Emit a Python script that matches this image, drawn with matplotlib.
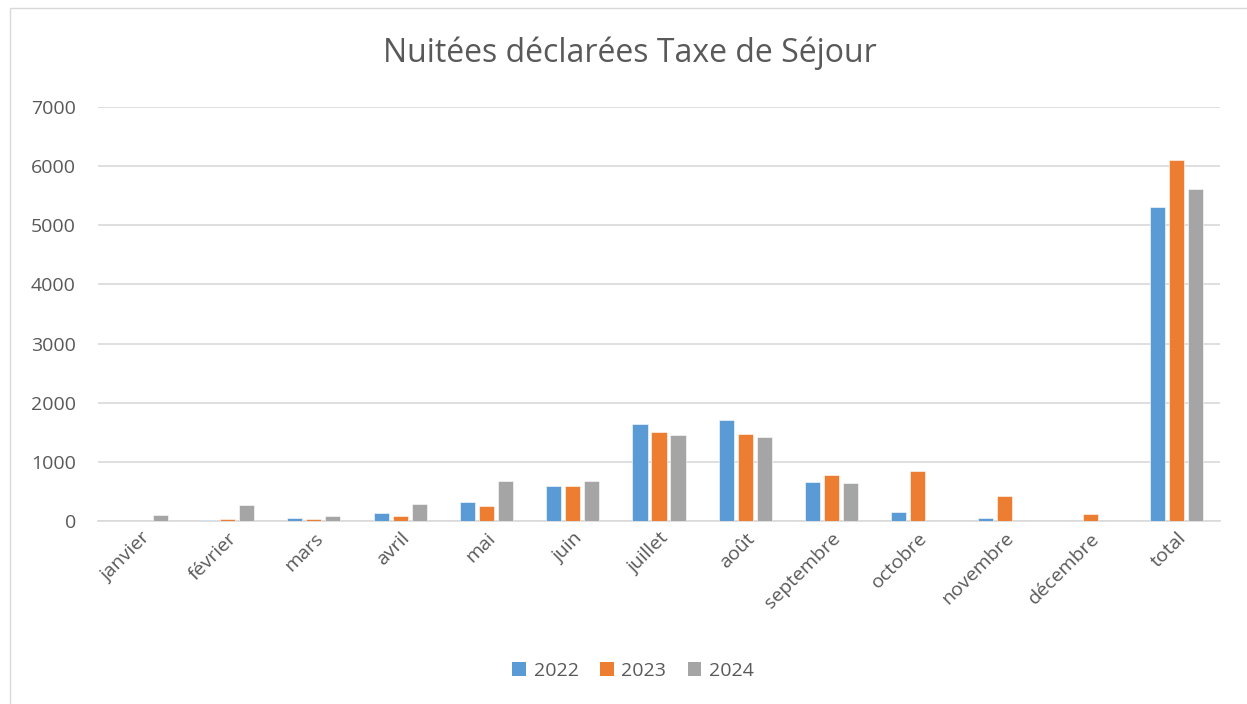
import matplotlib
matplotlib.use("Agg")
import matplotlib.pyplot as plt
from matplotlib.patches import Rectangle, Patch
import numpy as np

categories = ["janvier", "février", "mars", "avril", "mai", "juin", "juillet",
              "août", "septembre", "octobre", "novembre", "décembre", "total"]
series_names = ["2022", "2023", "2024"]
v2022 = [0, 25, 45, 140, 320, 585, 1640, 1700, 655, 152, 56, 5, 5304]
v2023 = [0, 35, 35, 85, 250, 600, 1500, 1470, 778, 845, 418, 123, 6104]
v2024 = [95, 275, 80, 292, 670, 675, 1450, 1420, 643, 0, 0, 0, 5608]
colors = ["#5B9BD5", "#ED7D31", "#A5A5A5"]
yticks = [0, 1000, 2000, 3000, 4000, 5000, 6000, 7000]

plt.rcParams['font.family'] = ['Open Sans', 'DejaVu Sans']

fig = plt.figure(figsize=(12.47, 7.04), dpi=100)
fig.patches.append(Rectangle((10/1247, -0.01), 1.1, (704-8)/704 + 0.01,
                             transform=fig.transFigure, fill=False,
                             edgecolor="#D9D9D9", linewidth=1.0))
ax = fig.add_axes([98/1247, (704-521)/704, (1220-98)/1247, (521-107)/704])

x = np.arange(len(categories))
step = 0.22
width = 0.175
for i, (vals, c, name) in enumerate(zip([v2022, v2023, v2024], colors, series_names)):
    ax.bar(x + (i - 1) * step, vals, width=width, color=c, label=name, zorder=3,
           edgecolor="white", linewidth=0.4)

ax.set_xlim(-0.5, len(categories) - 0.5)
ax.set_ylim(0, 7000)
ax.set_yticks(yticks)
ax.set_yticklabels([str(t) for t in yticks], fontsize=14, color="#595959")
ax.set_xticks(x)
ax.set_xticklabels(categories, rotation=45, ha="right", rotation_mode="anchor",
                   fontsize=14, color="#595959")
ax.tick_params(axis="both", length=0)
ax.tick_params(axis="y", pad=16)
ax.tick_params(axis="x", pad=6)
ax.grid(axis="y", color="#D9D9D9", linewidth=1.2, zorder=0)
for s in ["top", "right", "left"]:
    ax.spines[s].set_visible(False)
ax.spines["bottom"].set_color("#D9D9D9")
ax.spines["bottom"].set_linewidth(1.2)

fig.text(630/1247, 1 - 53/704, "Nuitées déclarées Taxe de Séjour", ha="center", va="center",
         fontsize=23, color="#595959")

handles = [Patch(facecolor=c, label=n) for c, n in zip(colors, series_names)]
fig.legend(handles=handles, loc="center", bbox_to_anchor=(633/1247, 1 - 671/704),
           ncol=3, frameon=False, fontsize=14, handlelength=0.7, handleheight=0.7,
           handletextpad=0.4, columnspacing=1.1, labelcolor="#595959")

fig.savefig("out.png", dpi=100)
